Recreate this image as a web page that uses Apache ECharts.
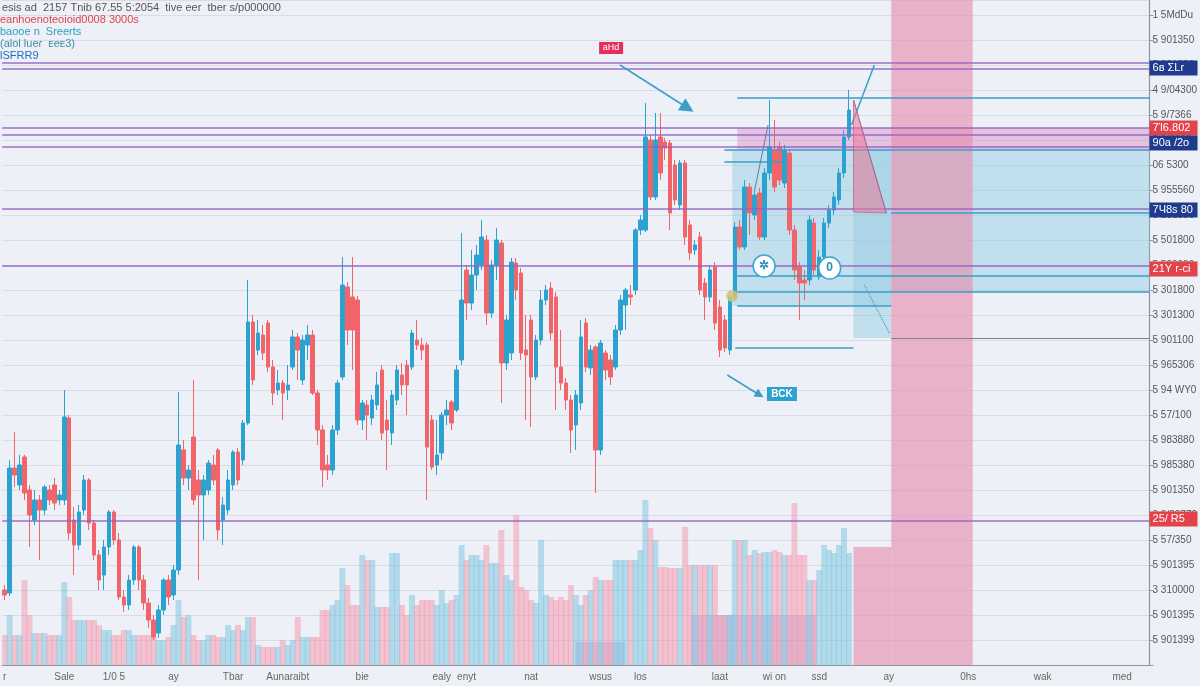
<!DOCTYPE html>
<html>
<head>
<meta charset="utf-8">
<script src="https://cdn.jsdelivr.net/npm/echarts/dist/echarts.min.js"></script>
<style>
  html, body { margin: 0; padding: 0; background: #eef0f7; }
  #main { width: 1200px; height: 686px; }
</style>
</head>
<body>
<div id="main"></div>
<script>
// candles: [open, close, low, high]
const candles = [
  [15,14,13,16],[14.4,39.4,13.8,41],[39.4,38,35.6,46.6],[36,40,35,42],[41.6,34.4,33,42],
  [35,30,23.6,36],[29,33,28,35],[33,31,21,34],[31,35.6,30,36],[35,33,32,36],
  [36,32.4,31,37.4],[33,34,32,35],[33,49.6,32,55],[49.4,26.4,25,50],[29,24,18,31.6],
  [24,30.6,23,32],[31,37,30,38],[37,28.4,27,37.4],[28.4,22,21,29],[22,17,15,23],
  [18,23.6,15,25],[23.6,30.6,22,31],[30.6,25,24,31],[25,13.6,13,26.4],[13.6,12,10.6,15],
  [12,17,11,18],[17,23.6,16,24],[23.6,17,15,24],[17,12.4,11,18],[12.4,9,7.4,13.4],
  [9,5.6,5,10],[6.4,11,5.4,12],[11,17,10,17.4],[17,13.6,12,18],[14,19,13,20],
  [19,44,18,54.6],[43,37.4,36,45],[37.4,39,35,40],[45.6,33,32,57],[37,34,17,39],
  [34,37,25,38],[35,40.4,34,41],[40,37,36,42],[43,27,25,43.4],[29,32,24,33.6],
  [31,37,30,39],[36,42.6,35,43],[42.6,37,36,43.4],[41,48.4,40,49],[48.4,68.6,48,77],
  [68.6,57,56,70],[63,66.4,62,69],[66,62.4,61,68],[68.4,59.6,58.6,69],[59.6,54.4,52,61],
  [55,56.4,54,59],[56.4,54.4,49,57],[55,56,53,60],[59.6,65.6,59,67],[65.6,63,57,66.4],
  [57,65,56,66],[64,66,61,68],[66,54.4,54,67],[54.4,47,44,55],[47,39,35.6,48],
  [40,39,37,42],[39,47,38,48],[47,56.4,46,57],[57.6,76,57,81.6],[75.6,67,64,76.6],
  [73.6,67,59,81.6],[73,49,48,73.8],[49,52.4,47,53],[52,50,45,53],[49.4,53,48,54],
  [52,56,51,58.6],[59,46.4,45,60],[49,47,39,53],[46.4,54,44,55],[53,59,52,60],
  [58,56,54,60.4],[60,56,50,61],[59.6,66.4,59,67],[65,64,63,69],[64,63,61,65.4],
  [64,43.6,33,64.6],[49,39.6,39,50],[40,42,38,49],[42.4,50,41,50.6],[50,51,48,53],
  [52.6,48.4,47,53],[51,59,50.6,60],[61,73,60,86.4],[79,72.4,69,80],[72.4,78,71,83],
  [78,82,75,84],[80,85.6,79,89],[85,70.4,68,86],[70.4,80,69.4,81],[80,85,77,87.4],
  [84.4,60.4,52.4,85],[60.4,69,59,70],[62.4,80.6,61,81.4],[80.4,75,73,81.4],[78.4,62.4,61,79.4],
  [63,62,49,70],[69,57.6,47.6,70],[57.6,65,57,66],[65,73,64,75],[73,75,72,76],
  [75.4,66.4,65,76.6],[73.6,59.6,51,74.6],[59.6,56.4,55,67],[56.4,53,51,57.4],[53,47,42.4,54],
  [48,54,43,55],[52.4,65.6,51,69],[68.4,59.6,58.6,69.4],[59.4,63,58,64],[63.6,43,34.4,64],
  [43,64.4,42,65],[62.4,59,57,63],[61,57.6,56,62],[59.6,67,59,68],[67,73,66,74],
  [72,75,67,75.4],[74,73.6,72,76],[75,87,74,87.4],[87,89,86,90],[87,105.6,86.6,112.4],
  [105,93.6,93,106],[93.6,105,93,110.4],[105.6,98.4,97,110.4],[104.6,103.4,101,105.4],[104.4,90.4,87,105],
  [100,93,92,101],[92,100.4,91,101],[100.4,85.6,84,101],[88,82.4,81,89],[83,84,82,85],
  [85.6,75,74,86.6],[76.4,73.6,69,77.4],[73.6,79,72.6,80],[79.6,68.4,67,80.6],[71.6,63,61.6,73],
  [69,63.4,62.6,70],[63,73.6,62,74.6],[73.6,87.6,73,88.6],[87.6,83.6,83,89],[83.6,95.6,83,97],
  [95.6,90.4,86,96.4],[90,94,89,95],[94.4,85.6,85,95.4],[85.6,98.4,85,99.4],[98.4,103.6,97,113],
  [103,95.6,94.6,109],[103.6,97,96,104.6],[96.4,103,95.4,104],[102.4,87,86,103],[87,79,77,88],
  [79.6,76.4,69,80.6],[77,76.4,73,79],[77,89,76,90],[88.4,79,78,89.4],[77.6,81.6,77,83],
  [81.6,88.4,80.6,89.4],[88.4,91,87.4,92],[91,93.6,90,94.6],[93,98.4,92,99.4],[98.4,105.6,97.4,107],
  [105.6,111,105,115]
];

const volumes = [
  6,10,6,6,
  17,10,6.4,6.4,6.4,6,6,6,
  16.6,13.6,9,9,9,9,9,8,
  7,7,6,6,7,7,6,6,6,6,
  5.6,5,5,5.6,8,13,9.6,10,
  6,5,5,6,6,5.6,5.6,8,7,8,7,
  9.6,9.6,4,3.6,3.6,3.6,3.6,5,4,5,
  9.6,5.6,5.6,5.6,5.6,11,11,12,13,
  19.4,16,12,12,22,21,21,11.6,11.6,11.6,
  22.4,22.4,12,10,14,12,13,13,13,12,
  15,12.4,13,14,24,21,22,22,21,24,
  20.4,20.4,27,18,17,30,15.6,15,13,12.4,
  25,14,13.6,13,13.6,13,16,14,12,14,
  15,17.6,17,17,17,21,21,21,21,21,
  23,33,27.4,25,19.6,19.6,19.4,19.4,19.4,27.6,
  20,20,20,20,20,20,10,10,10,25,
  25,25,22,23,22.4,22.6,22.6,23,22.6,22,
  22,32.4,22,22,17,17,19,24,23,22.4,24,27.4,22.4
];

const futureSlots = 60;

// price axis tick labels, bottom to top
const priceTicks = [
  '', '5 901399', '5 901395', '3 310000', '5 901395', '5 57/350', '3 0/23770',
  '5 901350', '5 985380', '5 983880', '5 57/100', '5 94 WY0', '5 965306',
  '5 901100', '3 301300', '5 301800', '5 520080', '5 501800', '5 201350',
  '5 955560', '06 5300', '5 9/3660', '5 9/7366', '4 9/04300', '5 901350',
  '5 901350', '1 5MdDu'
];

// date labels by slot
const dateLabels = {
  0: 'r', 12: 'Sale', 22: '1/0 5', 34: 'ay', 46: 'Tbar', 57: 'Aunaraibt',
  72: 'bie', 88: 'ealy', 93: 'enyt', 106: 'nat', 120: 'wsus', 128: 'los',
  144: 'laat', 155: 'wi on', 164: 'ssd', 178: 'ay', 194: '0hs', 209: 'wak', 225: 'med'
};

// horizontal levels
const purpleLevels = [120.4, 119.2, 107.4, 106, 103.6, 91.2, 79.8, 28.8];
const priceTags = [
  { price: 119.4, text: '6в ΣLr', kind: 'bull' },
  { price: 107.4, text: '7Ί6.802', kind: 'bear' },
  { price: 104.4, text: '90a /2о', kind: 'bull' },
  { price: 91.0, text: '7Ч8ѕ 80', kind: 'bull' },
  { price: 79.2, text: '21Y r-ci', kind: 'bear' },
  { price: 29.2, text: '25/ R5', kind: 'bear' }
];
// [fromSlot, price, toSlot]
const blueSegments = [
  [147.5, 113.4, 230.5], [144.9, 103, 230.5], [178.5, 90.4, 230.5],
  [147.5, 77.8, 230.5], [147.5, 74.6, 230.5], [147.5, 71.8, 178.5],
  [147.1, 63.4, 170.9], [144.9, 100.6, 156.9]
];
// zones: [fromSlot, topPrice, toSlot, bottomPrice]
const blueZones = [[146.5, 103, 230.5, 74.6], [146.5, 74.6, 178.5, 71.8], [170.9, 103, 178.5, 65.4]];
const pinkZones = [[178.5, 133, 194.9, 0], [170.9, 23.6, 178.5, 0]];
const magentaZones = [[147.5, 107.4, 230.5, 103]];
const profileZones = [[138.1, 10, 163.5, 0], [114.9, 4.6, 124.9, 0]];
const wedge = [[170.9, 113], [177.5, 90.4], [170.9, 90.6]];

const chart = echarts.init(document.getElementById('main'));

const slots = candles.length + futureSlots;
const categories = [];
for (let i = 0; i < slots; i++) categories.push('s' + i);

const upColor = '#2ba2cf';
const downColor = '#f0646a';
const purple = '#9461c2';
const lineBlue = '#3a9ec9';

const mlData = [];
purpleLevels.forEach(function (v) {
  mlData.push({ yAxis: v, lineStyle: { color: purple, width: 1.6, type: 'solid', opacity: 0.9 } });
});
priceTags.forEach(function (t) {
  mlData.push({
    yAxis: t.price,
    lineStyle: { color: 'rgba(0,0,0,0)', width: 0, opacity: 1 },
    label: {
      show: true, position: 'end', distance: 0, formatter: t.text, opacity: 1,
      backgroundColor: t.kind === 'bear' ? '#e2434b' : '#1f3b8e',
      color: '#fff', fontSize: 11, fontFamily: 'Liberation Sans', padding: [2, 3, 2, 3],
      width: 42, overflow: 'none'
    }
  });
});
blueSegments.forEach(function (s) {
  mlData.push([{ coord: [s[0], s[1]], lineStyle: { color: lineBlue, width: 1.5, type: 'solid' } }, { coord: [s[2], s[1]] }]);
});
mlData.push([{ coord: [178.5, 65.4], lineStyle: { color: '#7d7f88', width: 1.2, type: 'solid' } }, { coord: [230.5, 65.4] }]);
// arrows and diagonals
mlData.push([{ coord: [123.9, 120], symbol: 'none', lineStyle: { color: lineBlue, width: 1.5, type: 'solid' } },
             { coord: [137.5, 111.4], symbol: 'triangle', symbolSize: 14 }]);
mlData.push([{ coord: [145.5, 58], symbol: 'none', lineStyle: { color: lineBlue, width: 1.5, type: 'solid' } },
             { coord: [152, 54], symbol: 'triangle', symbolSize: 9 }]);
mlData.push([{ coord: [170.5, 108], lineStyle: { color: lineBlue, width: 1.5, type: 'solid' } }, { coord: [175.1, 120] }]);
mlData.push([{ coord: [173.1, 76], lineStyle: { color: lineBlue, width: 1.2, type: 'dotted' } }, { coord: [178.1, 66.4] }]);
mlData.push([{ coord: [170.9, 113], lineStyle: { color: '#5a7fa8', width: 1, type: 'solid' } }, { coord: [177.5, 90.4] }]);
mlData.push([{ coord: [151, 95], lineStyle: { color: '#5a7fa8', width: 1, type: 'solid' } }, { coord: [153.7, 108] }]);

function zone(list, color) {
  return list.map(function (z) {
    return [{ coord: [z[0], z[1]], itemStyle: { color: color } }, { coord: [z[2], z[3]] }];
  });
}

const callouts = [
  { at: [122.1, 123.4], text: 'aHd', kind: 'tag' },
  { at: [156.5, 54.2], text: 'BCK', kind: 'box' },
  { at: [152.9, 79.8], text: '✲', kind: 'ring' },
  { at: [166.1, 79.4], text: '0', kind: 'ring' },
  { at: [146.5, 73.8], text: '', kind: 'dot' }
];
const mpData = callouts.map(function (c) {
  if (c.kind === 'tag') return { coord: c.at, symbol: 'rect', symbolSize: [24, 12], itemStyle: { color: '#e3305f' },
    label: { show: true, formatter: c.text, color: '#fff', fontSize: 9 } };
  if (c.kind === 'box') return { coord: c.at, symbol: 'rect', symbolSize: [30, 14], itemStyle: { color: '#2ba2cf' },
    label: { show: true, formatter: c.text, color: '#fff', fontSize: 10, fontWeight: 'bold' } };
  if (c.kind === 'ring') return { coord: c.at, symbol: 'circle', symbolSize: 22,
    itemStyle: { color: '#fff', borderColor: '#3ba4cc', borderWidth: 1.5 },
    label: { show: true, formatter: c.text, color: '#2a8fb8', fontSize: 12, fontWeight: 'bold' } };
  return { coord: c.at, symbol: 'circle', symbolSize: 12, itemStyle: { color: 'rgba(214,196,120,0.85)' }, label: { show: false } };
});

const textFont = '11px "Liberation Sans", Arial, sans-serif';

const option = {
  backgroundColor: '#eef0f7',
  animation: false,
  grid: { left: 0, right: 45, top: 0, bottom: 21 },
  xAxis: [{
    type: 'category',
    data: categories,
    boundaryGap: true,
    axisLine: { onZero: false, lineStyle: { color: '#8f949e', width: 1.2 } },
    axisTick: { length: 4, lineStyle: { color: '#9a9ea8' }, interval: function (i) { return dateLabels[i] !== undefined; } },
    axisLabel: {
      interval: 0, color: '#666', fontSize: 10, margin: 7, fontFamily: 'Liberation Sans',
      formatter: function (v, i) { return dateLabels[i] || ''; }
    },
    splitLine: { show: false }
  }, {
    type: 'value', min: -0.5, max: slots - 0.5, show: false,
    axisLine: { show: false, onZero: false }, axisTick: { show: false }, axisLabel: { show: false }, splitLine: { show: false }
  }],
  yAxis: [{
    type: 'value',
    position: 'right',
    min: 0, max: 133, interval: 5,
    axisLine: { show: true, onZero: false, lineStyle: { color: '#8f949e', width: 1.2 } },
    axisTick: { show: true, length: 4, lineStyle: { color: '#999' } },
    axisLabel: {
      color: '#555', fontSize: 10, margin: 3, fontFamily: 'Liberation Sans', showMaxLabel: false,
      formatter: function (v) { return priceTicks[Math.round(v / 5)] || ''; }
    },
    splitLine: { show: true, lineStyle: { color: '#d9dbe5', width: 1 } }
  }, {
    type: 'value', position: 'right', min: 0, max: 133, show: false,
    axisLine: { show: false, onZero: false }, axisTick: { show: false }, axisLabel: { show: false }, splitLine: { show: false }
  }],
  graphic: [
    { type: 'text', left: 2, top: 2, z: 100, style: { text: 'esis ad  2157 Tnib 67.55 5:2054  tive eer  tber s/p000000', fill: '#555', font: textFont } },
    { type: 'text', left: 0, top: 14, z: 100, style: { text: 'eanhoenoteoioid0008 3000s', fill: '#e2434b', font: textFont } },
    { type: 'text', left: 0, top: 26, z: 100, style: { text: 'baooe n  Sreerts', fill: '#2aa0c4', font: textFont } },
    { type: 'text', left: 0, top: 38, z: 100, style: { text: '(alol lueɾ  ᴇeᴇ3)', fill: '#3c8fa8', font: textFont } },
    { type: 'text', left: 0, top: 50, z: 100, style: { text: 'lSFRR9', fill: '#2070c0', font: textFont, textDecoration: 'underline' } }
  ],
  series: [{
    name: 'volume',
    type: 'bar',
    xAxisIndex: 0, yAxisIndex: 1,
    barWidth: 6,
    z: 1,
    data: volumes.map(function (v, i) {
      const up = candles[i][1] >= candles[i][0];
      return { value: v, itemStyle: { color: up ? 'rgba(120,196,224,0.5)' : 'rgba(244,150,172,0.5)' } };
    })
  }, {
    name: 'price',
    type: 'candlestick',
    xAxisIndex: 0, yAxisIndex: 0,
    barWidth: 4,
    z: 4,
    data: candles,
    itemStyle: { color: upColor, color0: downColor, borderColor: upColor, borderColor0: downColor, borderWidth: 1 }
  }, {
    name: 'zones',
    type: 'line',
    xAxisIndex: 1, yAxisIndex: 0,
    data: [],
    silent: true,
    z: 3,
    markArea: {
      silent: true,
      data: [].concat(
        zone(blueZones, 'rgba(150,205,228,0.5)'),
        zone(magentaZones, 'rgba(214,140,195,0.45)'),
        zone(pinkZones, 'rgba(230,140,172,0.62)'),
        zone(profileZones, 'rgba(140,120,190,0.3)')
      )
    },
    markLine: {
      silent: true,
      symbol: ['none', 'none'],
      label: { show: false },
      data: mlData
    },
    markPoint: {
      silent: true,
      data: mpData
    }
  }, {
    name: 'wedge',
    type: 'custom',
    xAxisIndex: 1, yAxisIndex: 0,
    silent: true,
    z: 5,
    data: wedge,
    renderItem: function (params, api) {
      if (params.dataIndex !== 0) return;
      const pts = wedge.map(function (p) { return api.coord(p); });
      return { type: 'polygon', shape: { points: pts }, style: { fill: 'rgba(236,120,150,0.55)', stroke: 'rgba(200,90,130,0.7)', lineWidth: 1 } };
    }
  }]
};

chart.setOption(option);
</script>
</body>
</html>
